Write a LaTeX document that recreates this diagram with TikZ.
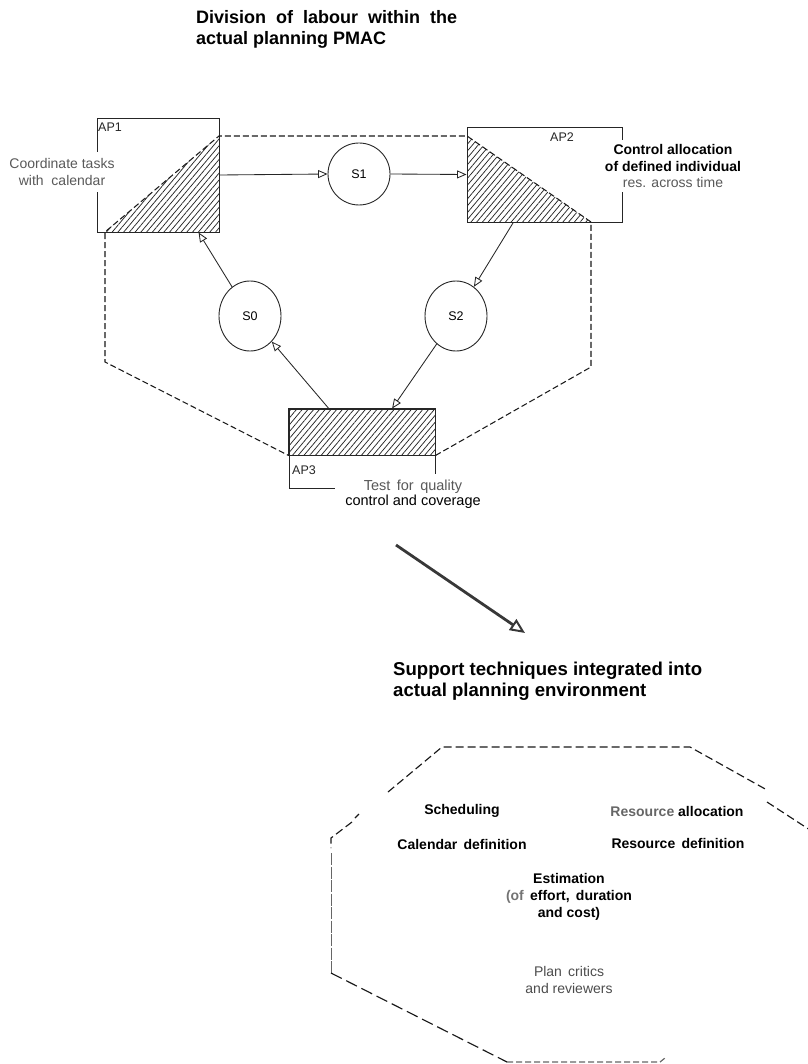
\documentclass[tikz,border=0pt]{standalone}
\usepackage{fontspec}
\setmainfont{Liberation Sans}
\usetikzlibrary{arrows.meta,patterns.meta,calc,shapes.geometric}

\tikzset{
  boxline/.style={draw=black!85, line width=0.95pt},
  apbox/.style={boxline, rectangle, inner sep=0pt},
  hatch/.style={pattern={Lines[angle=50,distance=4.4pt,line width=0.75pt]}, pattern color=black!85},
  stateell/.style={draw=black!85, line width=0.9pt, ellipse, inner sep=0pt,
    font=\fontsize{12.5}{14}\selectfont},
  flow/.style={draw=black!85, line width=0.85pt, -{Triangle[open,length=9.5pt,width=8pt]}},
  bound/.style={draw=black!90, line width=1.05pt, dash pattern=on 6pt off 3pt},
  octline/.style={draw=black!90, line width=1.15pt, dash pattern=on 8pt off 4pt},
  heading/.style={font=\fontsize{18.6}{21}\selectfont\bfseries, align=left, inner sep=0pt},
  tag/.style={font=\fontsize{12.5}{14}\selectfont, inner sep=0pt, text=black!85},
  note/.style={font=\fontsize{14}{17}\selectfont\bfseries, align=center, fill=white, inner xsep=4pt, inner ysep=4pt},
  softnote/.style={font=\fontsize{14}{17}\selectfont, align=center, text=black!70},
  bigarrow/.style={draw=black!78, line width=2.8pt, -{Triangle[open,length=15pt,width=13pt,line width=2pt]}},
}

\begin{document}
\begin{tikzpicture}[x=1pt,y=-1pt]
\useasboundingbox (0,0) rectangle (807,1064);

% ---------- heading ----------
\node[heading, anchor=west, font=\fontsize{18}{21}\selectfont\bfseries] (head1) at (196,29)
  {Division \ of \ labour \ within \ the\\actual planning PMAC};

% ---------- activity boxes ----------
\node[apbox, minimum width=122pt, minimum height=114pt] (ap1) at (158,175) {};
\node[apbox, minimum width=155pt, minimum height=95pt] (ap2) at (544.5,174.5) {};
\draw[boxline] (289,455) -- (289,488) -- (335,488);
\draw[boxline] (435,455) -- (435,474);

% hatched parts
\fill[hatch] (105,232) -- (219,136) -- (219,232) -- cycle;
\fill[hatch] (467,136) -- (591,222) -- (467,222) -- cycle;
\node[apbox, hatch, minimum width=146pt, minimum height=46pt] (ap3) at (362,432) {};
\draw[boxline] (ap3.north west) rectangle (ap3.south east);

% dashed boundary of the planning area
\coordinate (b1) at (105,232);
\coordinate (b2) at (219,136);
\coordinate (b3) at (467,136);
\coordinate (b4) at (591,222);
\coordinate (b5) at (591,367);
\coordinate (b8) at (105,362);
\draw[bound] (ap3.south east) -- (b5) -- (b4) -- (b3) -- (b2) -- (b1) -- (b8) -- (ap3.south west);

% labels of the boxes
\node[tag, anchor=west] (lap1) at (98,127) {AP1};
\node[tag] (lap2) at (562,137) {AP2};
\node[tag, anchor=west] (lap3) at (292,470) {AP3};

\node[font=\fontsize{14}{17}\selectfont, align=center, fill=white, text=black!65, inner xsep=2pt, inner ysep=6pt] (t1) at (62,172) {Coordinate tasks\\with \ calendar};
\node[note, font=\fontsize{14}{16.5}\selectfont\bfseries] (t2) at (673,166) {Control allocation\\of defined individual\\{\mdseries\color{black!65}res. across time}};
\node[align=center, fill=white, inner xsep=3pt, inner ysep=2pt, font=\fontsize{14.5}{15.5}\selectfont] (t3) at (413,494) {{\color{black!65}Test \,for \,quality}\\control and coverage};

% ---------- states ----------
\node[stateell, minimum width=62pt, minimum height=62pt] (s1) at (359,174) {S1};
\node[stateell, minimum width=62pt, minimum height=70pt] (s0) at (250,316) {S0};
\node[stateell, minimum width=62pt, minimum height=70pt] (s2) at (456,316) {S2};

% ---------- flows ----------
\coordinate (ap1in)  at ($(ap1.south west)!0.83!(ap1.south east)$);
\coordinate (ap2out) at ($(ap2.south west)!0.30!(ap2.south east)$);
\coordinate (ap3in)  at ($(ap3.north west)!0.705!(ap3.north east)$);
\coordinate (ap3out) at ($(ap3.north west)!0.274!(ap3.north east)$);

\draw[flow] (ap1.east) -- (s1.west);
\draw[flow] (s1.east) -- (ap2.west);
\draw[flow] (ap2out) -- (s2);
\draw[flow] (s2) -- (ap3in);
\draw[flow] (ap3out) -- (s0);
\draw[flow] (s0) -- (ap1in);

% ---------- transition arrow ----------
\coordinate (arrA) at (396,545);
\coordinate (arrB) at (525,633);
\draw[bigarrow] (arrA) -- (arrB);

\node[heading, anchor=west] (head2) at (393,681) {Support techniques integrated into\\actual planning environment};

% ---------- support techniques area ----------
\draw[octline] (388,792) -- (442,747) -- (690,747) -- (767,790);
\draw[octline] (767,802) -- (810,830);
\draw[octline] (359,814) -- (355,818);
\draw[octline] (352,822) -- (331,838) -- (331,848);
\draw[octline, draw=black!60, line width=0.9pt, dash pattern=on 12pt off 1.5pt] (331,853) -- (331,973);
\draw[octline, dash pattern=on 12pt off 5pt] (331,973) -- (507,1062);
\draw[octline, draw=black!60, dash pattern=on 6pt off 3pt] (507,1062) -- (660,1062) -- (665,1058);

\node[note, fill=none] (sched) at (462,811) {Scheduling};
\node[note, fill=none] (ralloc) at (677,811) {{\color{black!60}Resource} allocation};
\node[note, fill=none] (cal) at (462,844) {Calendar \,definition};
\node[note, fill=none] (rdef) at (678,843) {Resource \,definition};
\node[note, fill=none] (est) at (569,897) {Estimation\\{\color{black!55}(of} \,effort, \,duration\\and cost)};
\node[softnote] (crit) at (569,980) {Plan \,critics\\and reviewers};

\end{tikzpicture}
\end{document}
